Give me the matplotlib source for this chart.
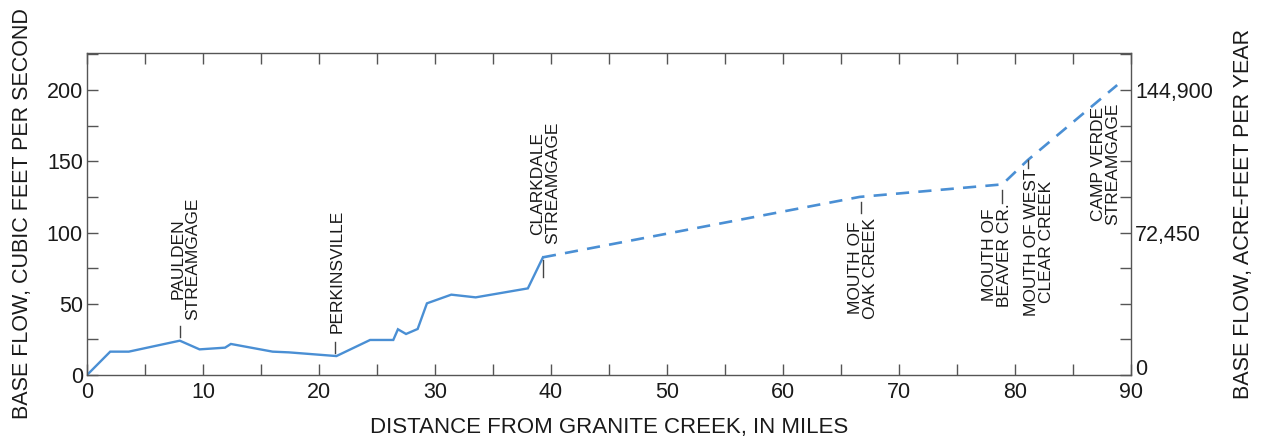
import matplotlib
matplotlib.use("Agg")
import matplotlib.pyplot as plt
import matplotlib.transforms as mtransforms
from matplotlib.ticker import MultipleLocator, FixedLocator

plt.rcParams["font.family"] = ["Liberation Sans", "DejaVu Sans"]

# Data: measured reach (solid) and estimated reach (dashed)
miles_solid = [0, 2.0, 3.6, 8.0, 9.7, 11.9, 12.4, 16.0, 17.4, 21.5, 24.4, 26.4,
               26.8, 27.5, 28.5, 29.3, 31.4, 33.5, 38.0, 39.3]
flow_solid = [0, 16.4, 16.4, 24.1, 18.0, 19.2, 21.8, 16.4, 15.9, 13.3, 24.6, 24.6,
              32.1, 28.8, 32.3, 50.3, 56.4, 54.5, 60.8, 82.6]
miles_dashed = [39.3, 66.6, 78.9, 81.1, 88.8]
flow_dashed = [82.6, 125.0, 133.8, 150.9, 203.5]

right_ticks = [0, 100, 200]
right_labels = ["0", "72,450", "144,900"]

# Site labels: text, text position (mile, cfs), tick (mile, y0, y1) or None
sites = [
    ("PAULDEN\nSTREAMGAGE", 8.5, 81.8, (8.0, 26.9, 34.6)),
    ("PERKINSVILLE", 21.6, 73.0, (21.4, 15.4, 23.2)),
    ("CLARKDALE\nSTREAMGAGE", 39.5, 134.7, (39.3, 68.8, 80.7)),
    ("MOUTH OF\nOAK CREEK", 66.85, 75.1, (66.7, 113.7, 121.4)),
    ("MOUTH OF\nBEAVER CR.", 78.4, 84.2, (78.9, 120.7, 129.8)),
    ("MOUTH OF WEST\nCLEAR CREEK", 82.1, 93.3, (81.1, 145.0, 150.9)),
    ("CAMP VERDE\nSTREAMGAGE", 87.8, 148.0, None),
]

line_color = "#4a8fd4"
ink = "#1a1a1a"
spine_color = "#555555"

fig = plt.figure(figsize=(12.61, 4.38), dpi=100)
ax = fig.add_axes([0.069, 0.1438, 0.828, 0.7352])

ax.plot(miles_solid, flow_solid, color=line_color, linewidth=1.7,
        solid_joinstyle="miter")
ax.plot(miles_dashed, flow_dashed, color=line_color, linewidth=1.9,
        linestyle=(0, (5, 3.5)))

for label, tx, ty, tick in sites:
    ax.text(tx, ty, label, rotation=90, ha="center", va="center",
            multialignment="center", fontsize=12.5, color=ink,
            linespacing=1.0)
    if tick is not None:
        ax.plot([tick[0], tick[0]], [tick[1], tick[2]], color="#444444",
                linewidth=1.0)

ax.set_xlim(0, 90)
ax.set_ylim(0, 226)
ax.xaxis.set_major_locator(MultipleLocator(10))
ax.xaxis.set_minor_locator(MultipleLocator(5))
ax.yaxis.set_major_locator(MultipleLocator(50))
ax.yaxis.set_minor_locator(MultipleLocator(25))

ax.tick_params(axis="both", which="both", direction="in", length=8,
               width=1.0, color=spine_color, top=True, labelsize=15.5,
               labelcolor=ink, pad=3)
ax.tick_params(axis="x", which="major", pad=5)
for s in ax.spines.values():
    s.set_color(spine_color)
    s.set_linewidth(1.0)

ax.set_xlabel("DISTANCE FROM GRANITE CREEK, IN MILES", fontsize=16,
              color=ink, labelpad=10)
ax.set_ylabel("BASE FLOW, CUBIC FEET PER SECOND", fontsize=15.5, color=ink,
              labelpad=10)

ax2 = ax.twinx()
ax2.set_ylim(ax.get_ylim())
ax2.yaxis.set_major_locator(FixedLocator(right_ticks))
ax2.set_yticklabels(right_labels)
ax2.yaxis.set_minor_locator(MultipleLocator(25))
ax2.tick_params(axis="y", which="both", direction="in", length=8, width=1.0,
                color=spine_color, labelsize=15.5, labelcolor=ink, pad=3)
ax2.set_ylabel("BASE FLOW, ACRE-FEET PER YEAR", fontsize=15.5, color=ink,
               labelpad=14)
for s in ax2.spines.values():
    s.set_visible(False)

# lift the right-hand zero a little so it clears the "90" below it
zero_lbl = ax2.yaxis.get_major_ticks()[0].label2
zero_lbl.set_transform(zero_lbl.get_transform() +
                       mtransforms.ScaledTranslation(0, 6 / 72, fig.dpi_scale_trans))

fig.savefig("out.png", dpi=100)
